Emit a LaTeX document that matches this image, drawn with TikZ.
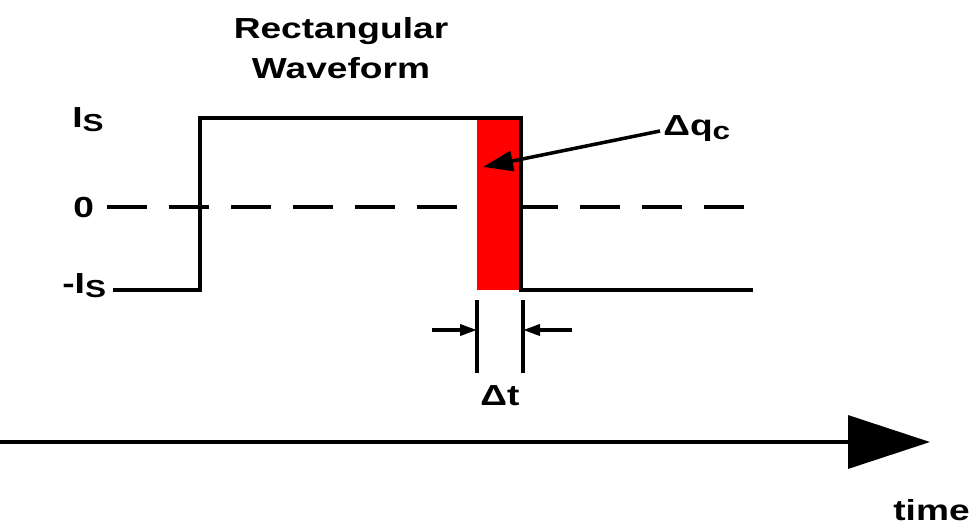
\documentclass[tikz,border=0pt]{standalone}
\usepackage{fontspec}
\setmainfont{Liberation Sans}[FakeStretch=1.28]
\usetikzlibrary{arrows.meta}
\newcommand{\lowsub}[1]{\raisebox{-0.3ex}{\fontsize{14}{16}\selectfont #1}}

\begin{document}
\begin{tikzpicture}[x=0.02cm, y=-0.02cm,
    wave/.style={line width=2pt},
    zero/.style={line width=2pt, dash pattern=on 22.8pt off 12.5pt},
    txt/.style={font=\fontsize{16.5}{22.7}\selectfont\bfseries, inner sep=0pt},
    dim/.style={line width=2pt, -{Triangle[length=0.34cm, width=0.22cm]}},
    pointer/.style={line width=2pt, -{Triangle[length=0.6cm, width=0.4cm]}},
    timeaxis/.style={line width=2pt, -{Triangle[length=1.64cm, width=1.06cm]}}
]
\useasboundingbox (0,0) rectangle (976,528);

\node[txt, align=center] (title) at (341,48) {Rectangular\\Waveform};
\node[txt, anchor=base west] (is) at (72,127) {I\lowsub{S}};
\node[txt, anchor=base west] (zero) at (73,217) {0};
\node[txt, anchor=base west] (mis) at (62,293) {-I\lowsub{S}};
\node[txt, anchor=base west] (dq) at (663,135) {Δq\lowsub{c}};
\node[txt, anchor=base] (dt) at (500,405) {Δt};
\node[txt, anchor=base west] (time) at (893,520) {time};

\coordinate (lowstart) at (113,290);
\coordinate (rise) at (200,290);
\coordinate (risetop) at (200,118);
\coordinate (fall) at (521,118);
\coordinate (fallbot) at (521,290);
\coordinate (lowend) at (753,290);

\draw[zero] (107,207) -- (477,207);
\draw[zero] (518,207) -- (745,207);
\fill[red] (477,118) rectangle (fallbot);
\draw[wave] (lowstart) -- (rise) -- (risetop) -- (fall) -- (fallbot) -- (lowend);

\coordinate (tip) at (483,167);
\draw[pointer] (660,131) -- (tip);

\coordinate (tickl) at (477,300);
\coordinate (tickr) at (523,300);
\draw[wave] (tickl) -- ++(0,73);
\draw[wave] (tickr) -- ++(0,73);
\draw[dim] (432,330) -- (tickl |- 0,330);
\draw[dim] (572,330) -- (tickr |- 0,330);

\coordinate (origin) at (0,442);
\coordinate (axisend) at (930,442);
\draw[timeaxis] (origin) -- (axisend);
\end{tikzpicture}
\end{document}
